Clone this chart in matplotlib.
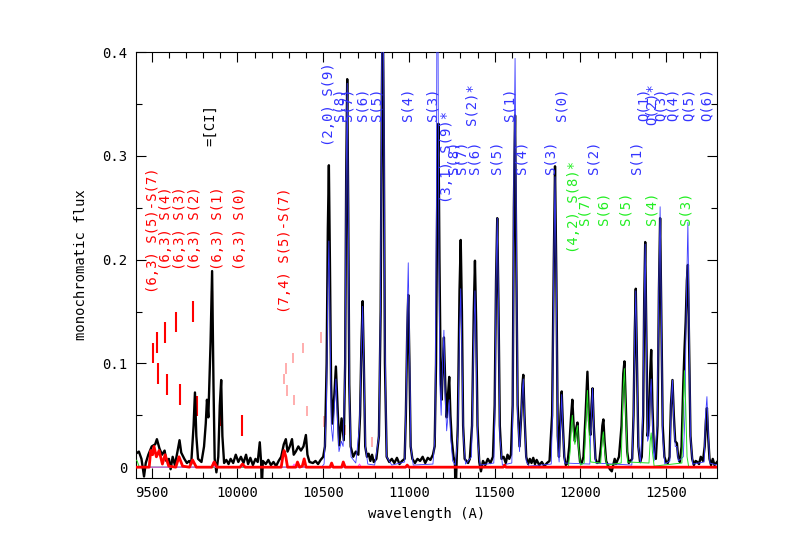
import numpy as np
import matplotlib
matplotlib.use("Agg")
import matplotlib.pyplot as plt
from matplotlib.ticker import MultipleLocator, FuncFormatter

plt.rcParams['font.family'] = ['DejaVu Sans Mono']

# observed spectrum (wavelength A, flux)
black = [(9407, .013), (9425, .015), (9440, .008), (9455, -.009), (9465, .004), (9480, .012),
         (9500, .020), (9520, .022), (9530, .027), (9545, .018), (9560, .012), (9575, .016),
         (9585, .006), (9600, .008), (9610, -.002), (9622, .010), (9635, .002), (9650, .015),
         (9662, .026), (9672, .014), (9690, .008), (9705, .004), (9718, .006), (9730, .003),
         (9744, .040), (9752, .072), (9760, .030), (9770, .008), (9790, .005), (9805, .020),
         (9815, .042), (9822, .065), (9830, .048), (9843, .120), (9852, .189), (9860, .080),
         (9867, .008), (9877, -.005), (9888, .010), (9897, .060), (9905, .084), (9912, .030),
         (9922, .004), (9935, .007), (9948, .003), (9960, .008), (9975, .004), (9990, .012),
         (10005, .005), (10020, .010), (10035, .004), (10050, .012), (10062, .003), (10075, .009),
         (10090, .002), (10105, .008), (10118, .005), (10130, .024), (10138, .004), (10142, -.02),
         (10148, .006), (10165, .003), (10180, .007), (10195, .002), (10210, .005), (10225, .001),
         (10240, .006), (10255, .010), (10270, .022), (10282, .027), (10292, .015), (10305, .020),
         (10318, .027), (10328, .012), (10340, .015), (10355, .020), (10370, .016), (10385, .020),
         (10399, .031), (10408, .012), (10420, .005), (10440, .004), (10455, .006), (10470, .003),
         (10485, .007), (10500, .010), (10510, .020), (10520, .100), (10527, .230), (10533, .291),
         (10539, .200), (10546, .080), (10553, .042), (10565, .070), (10574, .097), (10583, .060),
         (10593, .021), (10607, .047), (10620, .026), (10628, .100), (10634, .280), (10640, .374),
         (10646, .250), (10652, .080), (10660, .020), (10675, .010), (10690, .015), (10705, .012),
         (10715, .050), (10723, .120), (10730, .160), (10737, .100), (10745, .020), (10755, .010),
         (10765, .013), (10775, .006), (10785, .012), (10795, .005), (10810, .008), (10825, .030),
         (10835, .150), (10842, .360), (10847, .450), (10853, .330), (10860, .100), (10870, .010),
         (10885, .005), (10900, .008), (10915, .004), (10930, .009), (10945, .003), (10960, .006),
         (10975, .008), (10982, .050), (10990, .130), (10996, .166), (11003, .100), (11010, .020),
         (11020, .008), (11035, .004), (11050, .008), (11065, .006), (11080, .010), (11095, .004),
         (11110, .009), (11125, .007), (11140, .012), (11150, .020), (11158, .100), (11166, .280),
         (11172, .331), (11178, .200), (11185, .090), (11191, .065), (11198, .100), (11204, .125),
         (11212, .080), (11220, .048), (11228, .070), (11235, .087), (11242, .050), (11250, .026),
         (11260, .010), (11268, .005), (11272, -.03), (11278, .005), (11285, .040), (11295, .170),
         (11302, .219), (11309, .150), (11316, .040), (11325, .008), (11335, .006), (11345, .004),
         (11355, .008), (11368, .040), (11378, .150), (11385, .199), (11392, .140), (11400, .040),
         (11410, .005), (11420, -.004), (11432, .006), (11445, .002), (11460, .008), (11475, .004),
         (11490, .010), (11500, .060), (11508, .180), (11515, .240), (11522, .160), (11530, .040),
         (11540, .008), (11552, .010), (11565, .004), (11575, .012), (11585, .008), (11595, .012),
         (11605, .060), (11612, .250), (11619, .339), (11626, .200), (11634, .060), (11645, .020),
         (11655, .050), (11662, .080), (11667, .089), (11674, .050), (11684, .010), (11695, .003),
         (11705, .008), (11715, .004), (11725, .009), (11735, .003), (11745, .007), (11760, .002),
         (11775, .005), (11790, .001), (11805, .004), (11820, .006), (11835, .050), (11845, .200),
         (11852, .290), (11860, .180), (11868, .030), (11875, .010), (11884, .050), (11891, .073),
         (11898, .040), (11906, .010), (11915, .002), (11925, .004), (11935, .020), (11946, .050),
         (11953, .065), (11962, .035), (11968, .025), (11976, .038), (11983, .043), (11990, .020),
         (11998, .005), (12008, .004), (12018, .010), (12030, .050), (12041, .092), (12050, .045),
         (12058, .031), (12065, .060), (12071, .076), (12078, .040), (12088, .008), (12098, .004),
         (12110, .005), (12120, .020), (12128, .040), (12134, .046), (12141, .025), (12150, .006),
         (12160, .002), (12172, -.002), (12183, -.004), (12193, .003), (12200, .008), (12207, .003),
         (12215, .006), (12225, .010), (12240, .040), (12250, .090), (12257, .102), (12265, .060),
         (12273, .015), (12282, .004), (12292, .006), (12302, .008), (12310, .050), (12317, .130),
         (12323, .172), (12330, .100), (12338, .020), (12348, .005), (12358, .010), (12366, .050),
         (12372, .160), (12378, .217), (12385, .120), (12392, .030), (12400, .040), (12407, .090),
         (12413, .113), (12420, .060), (12428, .020), (12440, .008), (12450, .040), (12458, .170),
         (12465, .240), (12472, .150), (12480, .040), (12490, .010), (12500, .005), (12510, .004),
         (12520, .010), (12528, .060), (12537, .084), (12545, .050), (12553, .025), (12563, .023),
         (12570, .010), (12580, .005), (12590, .020), (12600, .080), (12607, .113), (12614, .140),
         (12621, .180), (12627, .195), (12634, .120), (12642, .030), (12652, .008), (12662, .002),
         (12672, .006), (12682, .005), (12692, .003), (12702, .010), (12715, .006), (12725, .020),
         (12732, .045), (12738, .057), (12745, .030), (12753, .008), (12762, .002), (12772, .008),
         (12782, .002), (12797, .005)]

# (2,0)+(3,1) model
blue = [(9407, 0.0), (10490, 0.0), (10505, .003), (10518, .050), (10527, .170), (10533, .218),
        (10539, .150), (10547, .040), (10556, .025), (10566, .060), (10574, .085), (10582, .050),
        (10592, .015), (10606, .025), (10616, .020), (10627, .090), (10634, .280), (10640, .370),
        (10646, .250), (10653, .070), (10662, .010), (10690, .004), (10712, .040), (10722, .110),
        (10730, .155), (10737, .100), (10746, .020), (10760, .003), (10800, .002), (10825, .030),
        (10835, .170), (10842, .400), (10847, .500), (10853, .380), (10860, .120), (10870, .010),
        (10900, .002), (10975, .005), (10983, .060), (10990, .150), (10996, .197), (11003, .120),
        (11011, .020), (11025, .002), (11140, .003), (11152, .030), (11160, .250), (11166, .600),
        (11172, .300), (11180, .080), (11188, .050), (11196, .100), (11204, .132), (11211, .070),
        (11220, .035), (11228, .050), (11235, .065), (11243, .030), (11255, .006), (11270, .002),
        (11285, .030), (11295, .130), (11302, .172), (11309, .110), (11317, .030), (11330, .003),
        (11365, .010), (11377, .120), (11385, .170), (11392, .110), (11401, .025), (11415, .002),
        (11495, .004), (11501, .050), (11508, .180), (11515, .240), (11522, .160), (11530, .030),
        (11545, .002), (11600, .004), (11606, .060), (11612, .280), (11619, .394), (11626, .230),
        (11634, .050), (11645, .015), (11655, .050), (11662, .075), (11667, .085), (11674, .050),
        (11684, .006), (11700, .001), (11830, .003), (11837, .050), (11845, .200), (11852, .280),
        (11860, .170), (11868, .020), (11876, .005), (11884, .040), (11891, .070), (11898, .035),
        (11908, .004), (12055, .003), (12064, .050), (12071, .076), (12078, .040), (12088, .004),
        (12300, .002), (12310, .050), (12317, .130), (12323, .170), (12330, .100), (12338, .020),
        (12350, .004), (12364, .050), (12372, .160), (12378, .215), (12385, .120), (12392, .025),
        (12400, .030), (12407, .070), (12413, .085), (12420, .045), (12430, .006), (12448, .040),
        (12458, .180), (12465, .251), (12472, .150), (12480, .030), (12492, .003), (12522, .006),
        (12529, .060), (12537, .084), (12545, .045), (12553, .020), (12563, .020), (12571, .006),
        (12600, .010), (12610, .050), (12618, .160), (12627, .236), (12634, .140), (12642, .030),
        (12655, .003), (12722, .005), (12730, .050), (12738, .068), (12745, .035), (12755, .004),
        (12797, .002)]

# (4,2) model
green = [(9407, .007), (9415, .006), (9425, .001), (9440, 0.0), (11930, 0.0), (11940, .015),
         (11947, .040), (11953, .050), (11961, .030), (11968, .022), (11976, .034), (11983, .040),
         (11990, .018), (12000, .002), (12022, .004), (12031, .040), (12041, .074), (12050, .035),
         (12060, .005), (12118, .004), (12127, .025), (12134, .034), (12141, .018), (12152, .002),
         (12238, .004), (12248, .070), (12257, .095), (12265, .050), (12275, .005), (12400, .004),
         (12407, .025), (12413, .033), (12420, .015), (12430, .001), (12592, .004), (12600, .060),
         (12607, .093), (12614, .060), (12622, .010), (12632, 0.0), (12797, 0.0)]

# (6,3)+(7,4) model
red = [(9407, 0.0), (9485, 0.0), (9494, .016), (9505, .012), (9513, .020), (9527, .010),
       (9543, .016), (9562, .003), (9578, .012), (9599, .001), (9640, 0.0), (9659, .010),
       (9680, .001), (9720, 0.0), (9738, .007), (9760, 0.0), (9850, 0.0), (9864, .005),
       (9880, 0.0), (10015, 0.0), (10029, .003), (10045, 0.0), (10255, 0.0), (10266, .012),
       (10272, .016), (10282, .010), (10292, 0.0), (10340, 0.0), (10350, .005), (10362, 0.0),
       (10378, .001), (10389, .008), (10400, 0.0), (10540, 0.0), (10549, .004), (10558, 0.0),
       (10608, 0.0), (10617, .005), (10628, 0.0), (10980, 0.0), (10990, .002), (11000, 0.0),
       (11550, 0.0), (11558, .002), (11566, 0.0), (12797, 0.0)]

magenta = [(9407, 0.0), (9850, 0.0), (9858, .005), (9868, 0.0), (10025, 0.0), (10032, .003),
           (10040, 0.0), (10320, 0.0), (10330, .003), (10340, 0.0), (10700, 0.0), (10712, .003),
           (10722, 0.0), (12797, 0.0)]

# line markers
tick63_wl = [9510, 9529, 9576, 9640, 9738, 9854, 9539, 9588, 9662, 9761, 9897, 10025]
tick63_lo = [0.100, 0.110, 0.120, 0.130, 0.140, 0.150, 0.080, 0.070, 0.060, 0.049, 0.040, 0.030]
tick74_wl = [10270, 10282, 10321, 10385, 10486, 10288, 10329, 10405, 10504, 10627, 10782]
tick74_lo = [0.080, 0.090, 0.100, 0.110, 0.120, 0.069, 0.060, 0.049, 0.039, 0.031, 0.019]

# labels: (wavelength, bottom flux, text)
red_labels = [(9506, 0.168, "(6,3) S(5)-S(7)"), (9586, 0.190, "(6,3) S(4)"),
              (9663, 0.190, "(6,3) S(3)"), (9751, 0.190, "(6,3) S(2)"),
              (9885, 0.190, "(6,3) S(1)"), (10014, 0.190, "(6,3) S(0)"),
              (10276, 0.149, "(7,4) S(5)-S(7)")]
black_labels = [(9839, 0.310, "=[CI]")]
blue_labels = [(10533, 0.310, "(2,0) S(9)"), (10597, 0.334, "S(8)"), (10644, 0.334, "S(7)"),
               (10732, 0.334, "S(6)"), (10813, 0.334, "S(5)"), (10994, 0.334, "S(4)"),
               (11140, 0.334, "S(3)"), (11220, 0.255, "(3,1) S(9)*"), (11257, 0.283, "S(8)"),
               (11308, 0.283, "S(7)"), (11385, 0.283, "S(6)"), (11366, 0.330, "S(2)*"),
               (11512, 0.283, "S(5)"), (11584, 0.334, "S(1)"), (11658, 0.283, "S(4)"),
               (11891, 0.334, "S(0)"), (11823, 0.283, "S(3)"), (12074, 0.283, "S(2)"),
               (12328, 0.283, "S(1)"), (12366, 0.334, "Q(1)"), (12413, 0.330, "Q(2)*"),
               (12468, 0.334, "Q(3)"), (12535, 0.334, "Q(4)"), (12629, 0.334, "Q(5)"),
               (12738, 0.334, "Q(6)")]
green_labels = [(11963, 0.206, "(4,2) S(8)*"), (12022, 0.233, "S(7)"), (12133, 0.233, "S(6)"),
                (12261, 0.233, "S(5)"), (12417, 0.233, "S(4)"), (12612, 0.233, "S(3)")]

fig = plt.figure(figsize=(7.85, 5.55), dpi=100)
ax = fig.add_axes([0.173, 0.139, 0.740, 0.767])

def draw(series, **kw):
    wl, fx = zip(*series)
    ax.plot(wl, fx, **kw)

draw(black, color='black', lw=1.7, zorder=3)
draw(blue, color='#3a3aff', lw=0.6, zorder=4)
draw(green, color='#22dd22', lw=0.7, zorder=5)
draw(magenta, color='#ff44ff', lw=0.7, zorder=5)
draw(red, color='red', lw=2.0, zorder=6)

ax.vlines(tick63_wl, tick63_lo, np.array(tick63_lo) + 0.02, color='red', lw=1.5, zorder=2)
ax.vlines(tick74_wl, tick74_lo, np.array(tick74_lo) + 0.01, color='#ff9f9f', lw=1.2, zorder=2)

for labels, col in [(red_labels, 'red'), (black_labels, 'black'),
                    (blue_labels, '#3333ff'), (green_labels, '#22ee22')]:
    for wl, fy, txt in labels:
        ax.text(wl, fy, txt, rotation=90, ha='center', va='bottom', color=col,
                fontsize=10, zorder=7)

ax.set_xlim(9407, 12795)
ax.set_ylim(-0.0103, 0.4)
ax.xaxis.set_major_locator(MultipleLocator(500))
ax.xaxis.set_minor_locator(MultipleLocator(100))
ax.yaxis.set_major_locator(MultipleLocator(0.1))
ax.yaxis.set_minor_locator(MultipleLocator(0.05))
ax.yaxis.set_major_formatter(FuncFormatter(lambda v, p: '0' if abs(v) < 1e-9 else f'{v:.1f}'))
ax.tick_params(which='both', direction='in', top=True, right=True, labelsize=10, width=0.8)
ax.tick_params(which='major', length=7, pad=6)
ax.tick_params(which='minor', length=4)
for s in ax.spines.values():
    s.set_linewidth(0.8)

ax.set_xlabel('wavelength (A)', fontsize=10, labelpad=5)
ax.set_ylabel('monochromatic flux', fontsize=10, labelpad=10)

fig.savefig('out.png', dpi=100)
